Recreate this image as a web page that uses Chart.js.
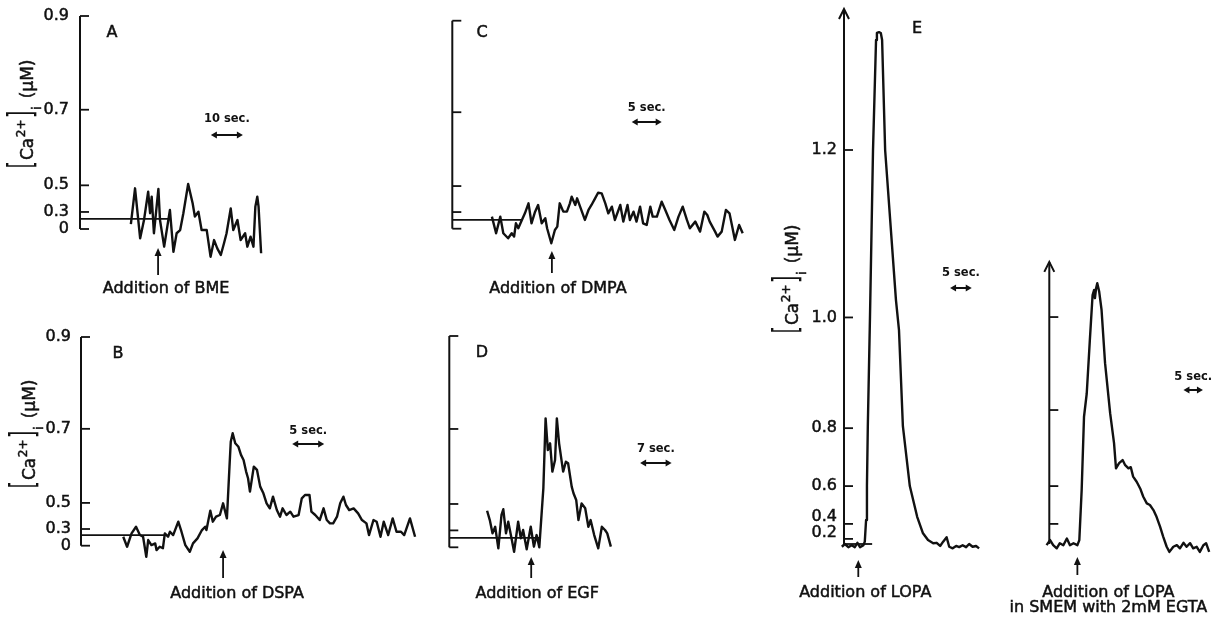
<!DOCTYPE html>
<html>
<head>
<meta charset="utf-8">
<script src="https://cdn.jsdelivr.net/npm/chart.js@4.4.1/dist/chart.umd.min.js"></script>
<style>
  body { margin: 0; background: #fff; }
  #fig { position: relative; width: 1215px; height: 620px; }
  #fig canvas { position: absolute; left: 0; top: 0; width: 1215px; height: 620px; }
</style>
</head>
<body>
<div id="fig"></div>
<script>
// calibrated axis: tick positions in signal units, labels in µM
const tickPosAD = [0, 8, 20.5, 56, 100];
const tickTextAD = ['0', '0.3', '0.5', '0.7', '0.9'];
const tickPosE = [1.3, 5.1, 14.7, 29.4, 57.5, 100];
const tickTextE = ['0.2', '0.4', '0.6', '0.8', '1.0', '1.2'];
const tickPosE2 = [5.1, 14.7, 34.0, 57.6];

// A: BME
const timeA = [15.9,17.2,18.8,20.0,21.3,21.9,22.4,23.1,24.5,25.0,26.3,28.1,29.2,30.2,31.3,32.3,33.8,35.2,35.9,37.0,38.0,39.6,40.8,41.9,42.9,44.0,45.0,45.8,47.1,47.9,49.2,50.2,51.6,52.3,53.3,54.2,54.8,55.4,55.8,56.6];
const caA = [2.3,19.1,-4.4,4.2,17.5,7.4,15.2,-2.0,18.8,4.2,-8.3,8.9,-10.7,-2.0,-0.5,7.4,21.1,12.1,5.8,8.1,-0.5,-0.5,-13.0,-5.2,-9.1,-12.2,-6.7,-2.0,9.7,-0.5,4.2,-5.2,-2.0,-8.3,-3.6,-8.3,10.5,15.2,10.5,-11.4];

// B: DSPA
const timeB = [6.6,7.2,7.9,8.6,9.2,9.7,10.2,10.5,11.0,11.6,11.8,12.3,12.8,13.1,13.6,13.9,14.4,15.2,15.7,16.3,17.0,17.5,18.2,18.9,19.4,19.6,20.2,20.6,21.1,21.7,22.2,22.8,23.2,23.4,23.7,24.1,24.6,25.0,25.4,25.8,26.1,26.4,27.0,27.5,28.0,28.5,29.0,29.5,30.0,30.6,31.1,31.5,32.1,32.7,33.2,34.0,34.5,35.0,35.7,36.0,36.6,37.3,37.9,38.4,38.9,39.4,40.0,40.5,41.0,41.4,41.9,42.6,43.3,43.9,44.6,45.0,45.7,46.2,46.8,47.3,48.0,48.7,49.3,50.0,50.5,51.4,52.2];
const caB = [4.3,-0.5,5.9,9.1,5.1,4.3,-5.3,2.7,0.3,1.1,-2.1,-0.5,-1.2,5.9,4.3,6.7,5.1,11.5,6.7,0.3,-2.9,1.1,3.5,7.5,9.1,7.5,16.8,11.5,13.9,14.7,20.3,13.1,37.9,49.8,53.9,49.1,47.4,43.5,41.1,35.5,32.3,25.9,37.9,36.3,28.3,25.1,20.3,17.9,23.5,17.1,13.9,17.9,14.7,16.3,13.9,14.7,22.7,24.3,24.3,16.3,14.7,12.3,17.9,12.3,10.7,10.7,13.9,20.3,23.5,19.5,17.1,17.9,15.5,12.3,10.7,5.1,12.3,11.5,4.3,11.5,5.1,13.1,6.7,6.7,5.1,13.1,4.3];

// C: DMPA
const timeC = [6.6,7.3,8.0,8.5,9.3,9.9,10.3,10.6,11.0,11.6,12.1,12.7,13.2,13.8,14.3,14.9,15.5,15.8,16.5,17.1,17.5,17.9,18.5,19.1,19.6,19.9,20.5,20.8,21.3,22.1,22.7,23.2,23.8,24.3,24.9,25.5,26.0,26.6,27.1,28.0,28.5,29.2,29.6,30.2,30.7,31.3,31.8,32.4,33.0,33.4,34.1,34.9,35.5,36.2,37.0,37.7,38.4,39.1,39.6,40.5,41.3,42.0,42.5,42.9,43.8,44.2,44.9,45.6,46.2,46.6,47.1,47.8,48.4];
const caC = [5.8,-2.2,5.8,-2.2,-4.6,-2.2,-3.8,2.6,0.2,4.2,7.4,12.2,2.6,8.2,11.4,2.6,5.0,0.2,-7.0,-0.6,1.0,12.2,8.2,8.2,12.2,15.4,11.4,14.6,10.6,4.2,9.0,11.4,14.6,17.3,17.0,12.2,7.4,10.6,4.2,11.4,3.4,11.4,4.2,8.2,3.4,10.6,2.6,1.8,10.6,5.8,5.8,13.0,9.0,4.2,-0.6,5.8,10.6,4.2,0.2,3.4,-1.4,8.2,6.6,3.4,-1.4,-3.8,-1.4,9.0,7.4,1.8,-5.4,1.8,-2.2];

// D: EGF
const timeD = [8.4,9.0,9.6,10.2,10.9,11.6,12.0,12.6,13.1,13.9,14.4,15.3,15.9,16.4,17.2,18.1,18.8,19.4,20.0,20.9,21.4,21.9,22.4,22.9,23.5,23.9,24.4,25.3,25.9,26.4,27.2,27.6,28.2,28.7,29.4,30.2,30.9,31.4,32.2,33.1,33.9,34.6,35.1,35.9];
const caD = [17.3,12.9,6.6,9.7,-0.5,15.3,18.0,6.6,12.1,3.5,-2.1,12.1,4.3,8.2,-0.9,9.7,0.3,5.8,0.0,27.9,61.0,46.0,49.2,35.8,41.3,61.0,49.2,35.8,40.5,39.8,28.7,25.6,22.4,12.9,20.8,18.5,9.7,12.9,5.8,-0.5,9.7,8.2,6.6,0.3];

// E: LOPA in normal medium
const timeE1 = [-11.5,-10.6,-9.8,-9.0,-8.2,-7.5,-6.7,-5.9,-5.2,-4.4,-3.6,-2.8,-2.1,-1.3,-0.5,0.2,1.0,1.8,2.5,3.1,3.7,4.5,4.8,5.1,5.3,5.5,6.0,6.7,7.4,7.6,8.1,8.5,8.8,9.5,12.0,12.7,13.6,15.2,16.9,18.2,19.4,20.6,21.4,22.2,22.9,23.7,24.3,25.1,25.9,26.6,27.4,28.2,28.9,29.7,30.5,31.2];
const caE1 = [-0.7,-0.5,-1.1,-0.8,-1.3,-0.7,-1.3,-0.8,-1.7,-0.8,-1.1,-0.5,-0.8,-0.3,-0.7,0,-0.8,-0.3,-0.8,0.3,-0.8,-0.3,0.6,6.1,14.7,29.9,57.6,100,127.9,129.7,129.9,129.7,127.9,100,61.9,54.3,29.9,14.7,6.9,2.8,1.0,0.2,0.3,-0.5,0.6,1.7,-0.7,-1.1,-0.5,-0.8,-0.3,-0.8,0,-0.7,-0.5,-1.1];

// E: LOPA in SMEM + 2mM EGTA
const timeE2 = [-5.1,-4.1,-3.2,-2.4,-1.5,-0.7,0.2,1.0,1.9,2.7,3.6,4.5,5.3,6.2,7.2,7.7,8.3,8.9,9.6,10.4,11.1,11.5,11.7,12.0,12.3,12.8,13.4,14.3,15.6,16.6,17.1,17.9,18.8,19.4,20.3,20.9,21.5,22.4,23.3,24.1,25.0,25.8,26.7,27.5,28.4,29.2,30.1,30.8,31.8,32.7,33.5,34.4,35.2,36.1,36.9,37.8,38.6,39.5,40.2,41.0];
const caE2 = [-0.5,-0.3,-0.7,-0.3,-0.7,-0.3,1.0,-0.3,-1.1,0.2,-0.3,1.4,-0.3,0.2,-0.3,1.0,13.7,32.3,38.2,51.8,63.2,64.5,62.4,64.9,66.2,64.0,59.4,45.9,33.2,25.6,19.2,20.5,21.3,20.1,19.2,19.5,17.1,15.8,14.1,12.0,10.3,9.9,8.6,6.9,4.4,1.9,-0.7,-2.0,-0.7,-0.3,-1.1,0.3,-0.7,0.2,-1.1,-0.7,-2.0,-0.3,0.2,-2.0];

// resting level line [level, end time], addition times (s), scale bars (s)
const restA = [4.8, 28.1], restB = [5.1, 13.1], restC = [4.2, 11.6], restD = [4.5, 20.2], restE1 = [0, 6.5];
const addedAt = { A: 24.4, B: 22.2, C: 16.6, D: 18.2, E1: 3.3, E2: 7.2 };
const barSec = { A: 10, B: 5, C: 5, D: 7, E1: 5, E2: 5 };
const barFrom = { A: 40.9, B: 33.0, C: 29.9, D: 42.4, E1: 24.5, E2: 34.4 };
const notes = {
  A: ['Addition of BME'], B: ['Addition of DSPA'], C: ['Addition of DMPA'], D: ['Addition of EGF'],
  E1: ['Addition of LOPA'], E2: ['Addition of LOPA', 'in SMEM with 2mM EGTA']
};

const W = 1215, H = 620;
const ink = '#111';
const FAM = '"DejaVu Sans", sans-serif';

const panels = [
  { key: 'A', time: timeA, ca: caA, rest: restA, left: 80, top: 16, bottom: 229, pxPerSec: 3.2, span: 60,
    ticks: tickPosAD, tickText: tickTextAD, tickGap: 11, axisTop: 100,
    title: [22, 114], letter: [112, 33], barY: 135, barTextY: 119,
    arrow: [248, 275], noteDx: 8, noteY: 289 },
  { key: 'B', time: timeB, ca: caB, rest: restB, left: 81, top: 337, bottom: 545.7, pxPerSec: 6.4, span: 54,
    ticks: tickPosAD, tickText: tickTextAD, tickGap: 10, axisTop: 100,
    title: [24, 434], letter: [118, 354], barY: 444, barTextY: 431,
    arrow: [550, 578], noteDx: 14, noteY: 594 },
  { key: 'C', time: timeC, ca: caC, rest: restC, left: 452.3, top: 20.7, bottom: 228.7, pxPerSec: 6, span: 50,
    ticks: tickPosAD, tickText: null, axisTop: 100,
    title: null, letter: [482, 33], barY: 122, barTextY: 108,
    arrow: [251, 273], noteDx: 6, noteY: 289 },
  { key: 'D', time: timeD, ca: caD, rest: restD, left: 449.3, top: 336, bottom: 547.3, pxPerSec: 4.5, span: 45,
    ticks: tickPosAD, tickText: null, axisTop: 100,
    title: null, letter: [482, 353], barY: 463, barTextY: 449,
    arrow: [557, 578], noteDx: 6, noteY: 594 },
  { key: 'E1', time: timeE1, ca: caE1, rest: restE1, left: 844, top: 150, bottom: 544, pxPerSec: 4.33, span: 32,
    ticks: tickPosE, tickText: tickTextE, tickGap: 7, tickNudge: [-6, -7, 0, 0, 0, 0], axisTop: 135.8, axisArrow: true,
    title: [787, 279], letter: [917, 29], letterText: 'E', barY: 288, barTextY: 273,
    arrow: [560, 577], noteDx: 7, noteY: 593 },
  { key: 'E2', time: timeE2, ca: caE2, rest: null, left: 1049.3, top: 150, bottom: 544, pxPerSec: 3.9, span: 42,
    ticks: tickPosE2, tickText: null, axisTop: 71.6, axisArrow: true,
    title: null, letter: null, barY: 390, barTextY: 377,
    arrow: [557, 575], noteDx: 31, noteY: 593 }
];

function seg(ctx, x0, y0, x1, y1) {
  ctx.beginPath(); ctx.moveTo(x0, y0); ctx.lineTo(x1, y1); ctx.stroke();
}

function head(ctx, tipX, tipY, dx, dy, len, half) {
  // filled arrowhead pointing along (dx, dy)
  const bx = tipX - dx * len, by = tipY - dy * len;
  ctx.beginPath();
  ctx.moveTo(tipX, tipY);
  ctx.lineTo(bx - dy * half, by + dx * half);
  ctx.lineTo(bx + dy * half, by - dx * half);
  ctx.closePath();
  ctx.fill();
}

// print-like text: fill plus a thin outline to thicken the strokes
function ink_text(ctx, s, x, y) {
  ctx.fillText(s, x, y);
  ctx.strokeText(s, x, y);
}

function drawCaLabel(ctx, cx, cy) {
  const pieces = [
    { text: '[', size: 19, bracket: true, gap: 1 },
    { text: 'Ca', size: 17, base: 11, gap: 0.5 },
    { text: '2+', size: 12, base: 3, gap: 1.5 },
    { text: ']', size: 19, bracket: true, gap: 1 },
    { text: 'i', size: 12, base: 19, gap: 8 },
    { text: '(µM)', size: 17, base: 11, gap: 0 }
  ];
  ctx.save();
  ctx.translate(cx, cy);
  ctx.rotate(-Math.PI / 2);
  ctx.textAlign = 'left';
  ctx.textBaseline = 'alphabetic';
  ctx.lineWidth = 0.5;
  let total = 0;
  for (const p of pieces) {
    ctx.font = p.size + 'px ' + FAM;
    p.w = ctx.measureText(p.text).width;
    total += p.w + p.gap;
  }
  let pos = -total / 2;
  for (const p of pieces) {
    ctx.font = p.size + 'px ' + FAM;
    if (p.bracket) {
      ctx.save();
      ctx.translate(pos, 0);
      ctx.scale(1, 1.76);
      ctx.fillText(p.text, 0, 5.6);
      ctx.restore();
    } else {
      ink_text(ctx, p.text, pos, p.base);
    }
    pos += p.w + p.gap;
  }
  ctx.restore();
}

const specOf = new Map();

const traceDecor = {
  id: 'traceDecor',
  afterDatasetsDraw(chart) {
    const p = specOf.get(chart.canvas);
    const ctx = chart.ctx;
    const xs = chart.scales.x, ys = chart.scales.y;
    const ax = xs.getPixelForValue(0);
    ctx.save();
    ctx.strokeStyle = ink;
    ctx.fillStyle = ink;

    // vertical axis
    const yTop = ys.getPixelForValue(p.axisTop);
    ctx.lineWidth = 2;
    seg(ctx, ax, ys.getPixelForValue(0), ax, yTop);
    if (p.axisArrow) {
      ctx.beginPath();
      ctx.moveTo(ax - 5, yTop + 10);
      ctx.lineTo(ax, yTop);
      ctx.lineTo(ax + 5, yTop + 10);
      ctx.stroke();
    }

    // tick marks point inward, labels on the left
    ctx.font = '16px ' + FAM;
    ctx.textAlign = 'right';
    ctx.textBaseline = 'middle';
    p.ticks.forEach((v, i) => {
      const ty = ys.getPixelForValue(v);
      ctx.lineWidth = 1.8;
      seg(ctx, ax, ty, ax + 9, ty);
      if (p.tickText) {
        const nudge = p.tickNudge ? p.tickNudge[i] : 0;
        ctx.lineWidth = 0.5;
        ink_text(ctx, p.tickText[i], ax - p.tickGap, ty + nudge);
      }
    });

    if (p.title) drawCaLabel(ctx, p.title[0], p.title[1]);

    ctx.lineWidth = 0.5;
    if (p.letter) {
      ctx.font = '16px ' + FAM;
      ctx.textAlign = 'center';
      ctx.textBaseline = 'middle';
      ink_text(ctx, p.letterText || p.key, p.letter[0], p.letter[1]);
    }

    // time scale bar
    const sec = barSec[p.key];
    const b0 = xs.getPixelForValue(barFrom[p.key]);
    const b1 = xs.getPixelForValue(barFrom[p.key] + sec);
    ctx.lineWidth = 2;
    seg(ctx, b0 + 4, p.barY, b1 - 4, p.barY);
    head(ctx, b0, p.barY, -1, 0, 6, 3.5);
    head(ctx, b1, p.barY, 1, 0, 6, 3.5);
    ctx.font = 'bold 11.5px ' + FAM;
    ctx.textAlign = 'center';
    ctx.textBaseline = 'middle';
    ctx.fillText(sec + ' sec.', (b0 + b1) / 2, p.barTextY);

    // addition marker
    const mx = xs.getPixelForValue(addedAt[p.key]);
    ctx.lineWidth = 1.8;
    seg(ctx, mx, p.arrow[1], mx, p.arrow[0] + 6);
    head(ctx, mx, p.arrow[0], 0, -1, 8, 3.5);
    ctx.font = '16px ' + FAM;
    ctx.lineWidth = 0.5;
    notes[p.key].forEach((line, i) => {
      ink_text(ctx, line, mx + p.noteDx, p.noteY + i * 15);
    });

    ctx.restore();
  }
};

const fig = document.getElementById('fig');

for (const p of panels) {
  const cv = document.createElement('canvas');
  cv.width = W;
  cv.height = H;
  fig.appendChild(cv);
  specOf.set(cv, p);

  const right = p.left + p.span * p.pxPerSec;
  const datasets = [{
    data: p.time.map((t, i) => ({ x: t, y: p.ca[i] })),
    borderColor: ink,
    borderWidth: 2.4,
    borderJoinStyle: 'round',
    pointRadius: 0,
    tension: 0,
    clip: false
  }];
  if (p.rest) {
    datasets.push({
      data: [{ x: 0, y: p.rest[0] }, { x: p.rest[1], y: p.rest[0] }],
      borderColor: ink,
      borderWidth: 1.8,
      pointRadius: 0,
      clip: false
    });
  }

  new Chart(cv, {
    type: 'line',
    data: { datasets: datasets },
    options: {
      responsive: false,
      animation: false,
      events: [],
      layout: {
        padding: { left: p.left, top: p.top, right: W - right, bottom: H - p.bottom }
      },
      scales: {
        x: { type: 'linear', display: false, min: 0, max: p.span },
        y: { type: 'linear', display: false, min: 0, max: 100 }
      },
      plugins: {
        legend: { display: false },
        tooltip: { enabled: false }
      }
    },
    plugins: [traceDecor]
  });
}
</script>
</body>
</html>
